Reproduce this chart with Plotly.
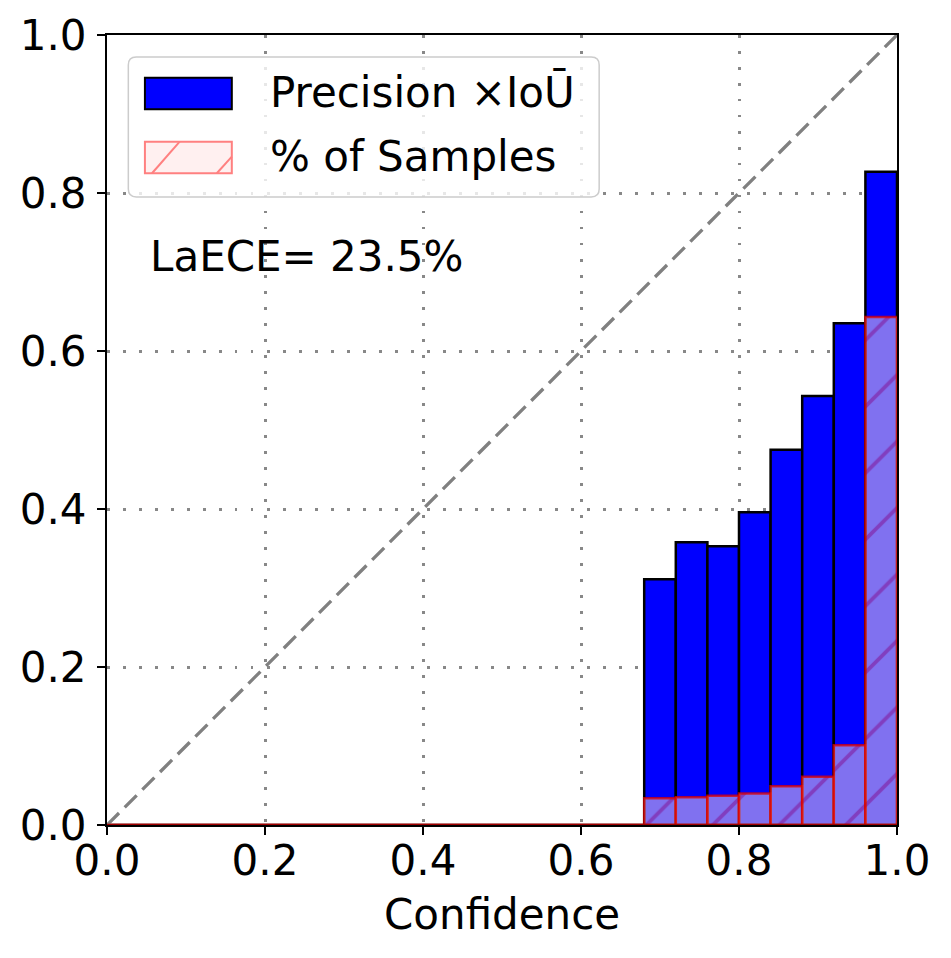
import numpy as np
import plotly.graph_objects as go

# 25 confidence bins of width 0.04
bin_width = 0.04
bin_centers = np.round(np.arange(25) * bin_width + bin_width / 2, 3)

# precision x IoU per bin (empty bins are zero)
precision_iou = [0.0] * 17 + [0.311, 0.358, 0.353, 0.396, 0.475, 0.543, 0.635, 0.827]
# fraction of samples per bin
pct_samples = [0.0] * 17 + [0.034, 0.035, 0.037, 0.040, 0.049, 0.061, 0.101, 0.643]

diag = [0.0, 1.0]
ticks = [0.0, 0.2, 0.4, 0.6, 0.8, 1.0]
tick_text = ["0.0", "0.2", "0.4", "0.6", "0.8", "1.0"]
laece_text = "LaECE= 23.5%"

FONT = "DejaVu Sans"
FS = 42

fig = go.Figure()

fig.add_trace(go.Bar(
    x=bin_centers, y=precision_iou, width=bin_width,
    marker=dict(color="#0000ff", line=dict(color="black", width=2.5)),
    showlegend=False,
))
fig.add_trace(go.Bar(
    x=bin_centers, y=pct_samples, width=bin_width,
    marker=dict(
        color="rgba(255,225,225,0.5)",
        line=dict(color="rgba(220,0,0,0.75)", width=2.5),
        pattern=dict(shape="/", fillmode="overlay", fgcolor="rgba(130,0,130,0.9)",
                     size=47, solidity=0.08),
    ),
    showlegend=False,
))
fig.add_trace(go.Scatter(
    x=diag, y=diag, mode="lines",
    line=dict(color="gray", width=3.3, dash="17px,8px"),
    showlegend=False,
))

# red line along the bottom (edges of empty bins)
fig.add_shape(type="line", xref="x", yref="y", x0=0, x1=1, y0=0, y1=0,
              line=dict(color="#a00000", width=2.5), layer="above")

# hand-made legend
fig.add_shape(type="path", xref="paper", yref="paper",
              path="M 0.037 0.972 L 0.613 0.972 Q 0.623 0.972 0.623 0.962 "
                   "L 0.623 0.805 Q 0.623 0.795 0.613 0.795 L 0.037 0.795 "
                   "Q 0.027 0.795 0.027 0.805 L 0.027 0.962 Q 0.027 0.972 0.037 0.972 Z",
              fillcolor="rgba(255,255,255,0.8)", line=dict(color="#cccccc", width=1.5),
              layer="above")
fig.add_shape(type="rect", xref="paper", yref="paper", x0=0.048, x1=0.158, y0=0.906, y1=0.946,
              fillcolor="#0000ff", line=dict(color="black", width=2), layer="above")
fig.add_shape(type="rect", xref="paper", yref="paper", x0=0.048, x1=0.158, y0=0.825, y1=0.865,
              fillcolor="#fff0f0", line=dict(color="#ff8080", width=2), layer="above")
fig.add_shape(type="line", xref="paper", yref="paper", x0=0.057, x1=0.092, y0=0.825, y1=0.865,
              line=dict(color="#ff8080", width=2), layer="above")
fig.add_shape(type="line", xref="paper", yref="paper", x0=0.139, x1=0.158, y0=0.825, y1=0.846,
              line=dict(color="#ff8080", width=2), layer="above")
fig.add_annotation(xref="paper", yref="paper", x=0.204, y=0.927, text="Precision ×IoŪ",
                   showarrow=False, xanchor="left", yanchor="middle",
                   font=dict(family=FONT, size=FS, color="black"))
fig.add_annotation(xref="paper", yref="paper", x=0.204, y=0.846, text="% of Samples",
                   showarrow=False, xanchor="left", yanchor="middle",
                   font=dict(family=FONT, size=FS, color="black"))

fig.add_annotation(xref="paper", yref="paper", x=0.052, y=0.719, text=laece_text,
                   showarrow=False, xanchor="left", yanchor="middle",
                   font=dict(family=FONT, size=FS, color="black"))
fig.add_annotation(xref="paper", yref="paper", x=0.5, y=-0.113, text="Confidence",
                   showarrow=False, xanchor="center", yanchor="middle",
                   font=dict(family=FONT, size=FS, color="black"))

axis_style = dict(
    range=[0, 1], tickvals=ticks, ticktext=tick_text,
    showline=True, linecolor="black", linewidth=2, mirror=True,
    ticks="outside", ticklen=8, tickwidth=2, tickcolor="black",
    showgrid=True, gridcolor="#888888", gridwidth=2.5, griddash="2.5px,13.5px",
    zeroline=False, automargin=False,
    tickfont=dict(family=FONT, size=FS, color="black"),
)
fig.update_xaxes(**axis_style, ticklabelstandoff=-10)
fig.update_yaxes(**axis_style, ticklabelstandoff=2)

# page body has an 8px margin, so pull the plot area back by that much
fig.update_layout(
    width=951, height=958,
    margin=dict(l=99, r=62, t=27, b=141),
    barmode="overlay",
    plot_bgcolor="white", paper_bgcolor="white",
    font=dict(family=FONT, size=FS, color="black"),
)

fig.write_html("out.html")
